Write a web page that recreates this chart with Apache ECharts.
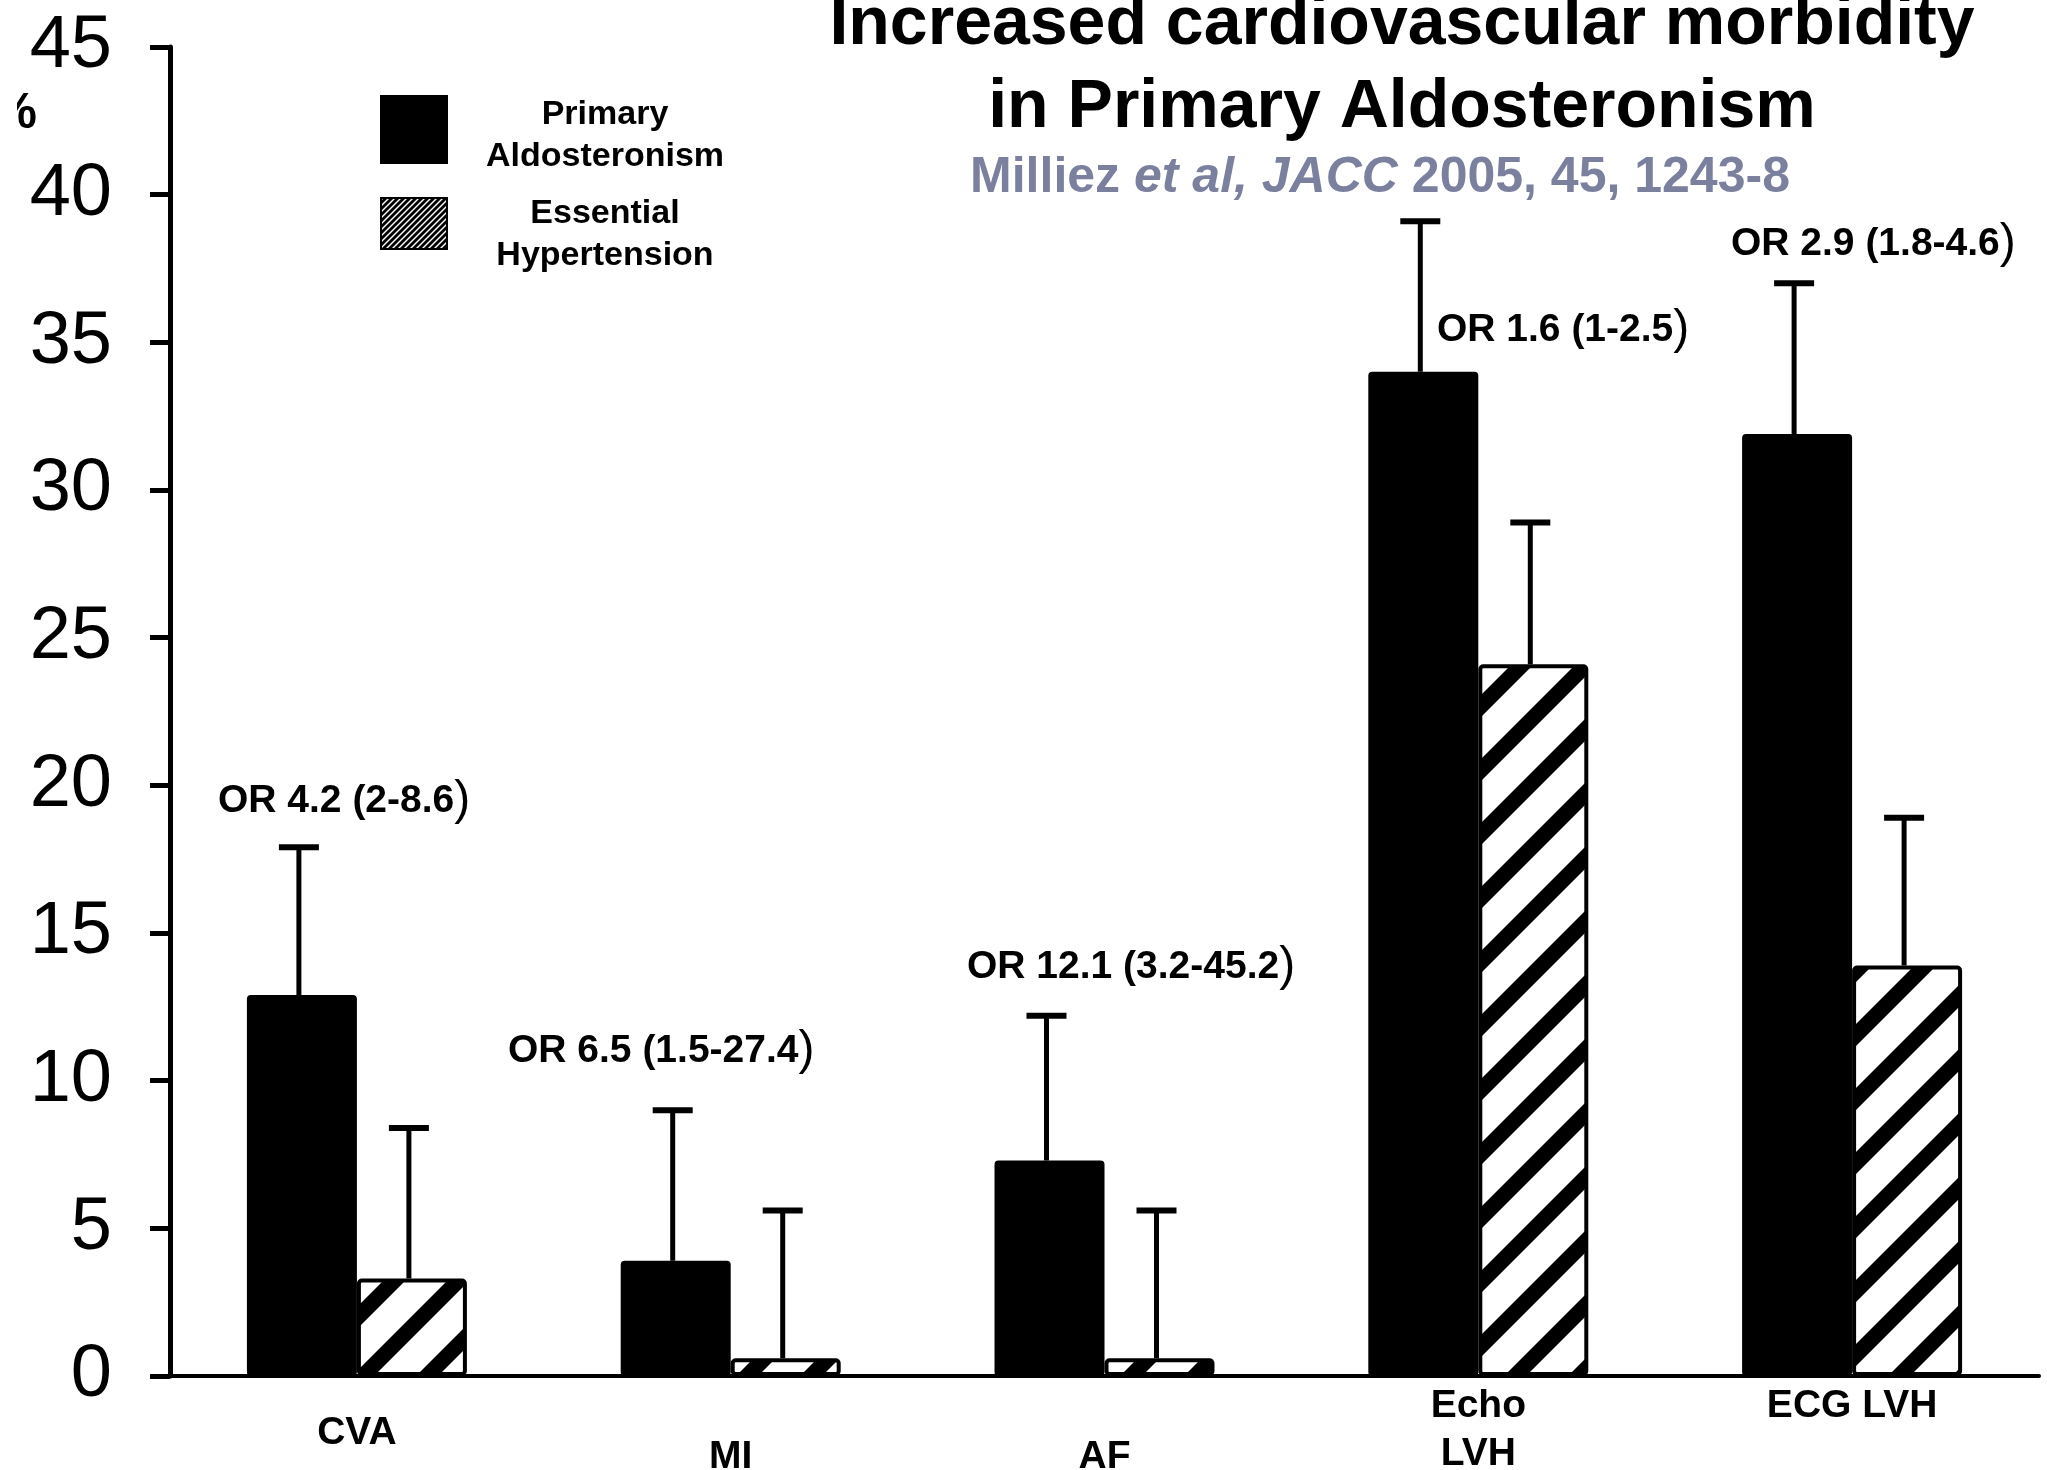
<!DOCTYPE html>
<html><head><meta charset="utf-8">
<script src="https://cdn.jsdelivr.net/npm/echarts@6/dist/echarts.min.js"></script>
<style>html,body{margin:0;padding:0;background:#fff}#c{width:2047px;height:1470px}</style>
</head><body><div id="c"></div>
<script>
// ---- data ----
const categories = ['CVA', 'MI', 'AF', 'Echo\nLVH', 'ECG LVH'];
const primaryAldo = [12.9, 3.9, 7.3, 34.0, 31.9];
const primaryAldoUpper = [17.9, 9.0, 12.2, 39.1, 37.0];
const essentialHT = [3.3, 0.6, 0.6, 24.1, 13.9];
const essentialHTUpper = [8.4, 5.6, 5.6, 28.9, 18.9];
const oddsRatioText = ['OR 4.2 (2-8.6', 'OR 6.5 (1.5-27.4', 'OR 12.1 (3.2-45.2', 'OR 1.6 (1-2.5', 'OR 2.9 (1.8-4.6'];
const yMin = 0, yMax = 45, yInterval = 5;
const seriesNames = ['Primary Aldosteronism', 'Essential Hypertension'];

// ---- styling helpers ----
const BOLD = "'Liberation Sans', Arial, Helvetica, sans-serif";
const NARROW = "'Liberation Sans Narrow', 'Arial Narrow', 'Liberation Sans', Arial, sans-serif";

function stripes(size, band, bg, fg) {
  const c = document.createElement('canvas');
  c.width = c.height = size;
  const g = c.getContext('2d');
  g.fillStyle = bg; g.fillRect(0, 0, size, size);
  g.fillStyle = fg;
  for (let k = -1; k <= 2; k++) {
    const c0 = k * size;
    g.beginPath();
    g.moveTo(c0, 0); g.lineTo(c0 + band, 0);
    g.lineTo(c0 + band - size, size); g.lineTo(c0 - size, size);
    g.closePath(); g.fill();
  }
  return c;
}
const barHatch = { image: stripes(64, 22, '#fff', '#000'), repeat: 'repeat' };
const legendHatch = { image: stripes(6, 4, '#fff', '#000'), repeat: 'repeat' };

// per-category label line heights (vertical placement of x labels)
const labelLineHeights = { 'CVA': 102, 'MI': 150, 'AF': 150, 'Echo\nLVH': 48, 'ECG LVH': 48 };

function errorSeries(name, base, upper, offset) {
  return {
    type: 'custom',
    name: name + ' error',
    z: 5,
    silent: true,
    data: base.map((v, i) => [i, v, upper[i]]),
    encode: { x: 0, y: [1, 2] },
    renderItem(params, api) {
      const i = api.value(0);
      const p0 = api.coord([i, api.value(1)]);
      const p1 = api.coord([i, api.value(2)]);
      const x = p0[0] + offset;
      return {
        type: 'group',
        children: [
          { type: 'line', shape: { x1: x, y1: p0[1], x2: x, y2: p1[1] }, style: { stroke: '#000', lineWidth: 5 } },
          { type: 'line', shape: { x1: x - 20, y1: p1[1], x2: x + 20, y2: p1[1] }, style: { stroke: '#000', lineWidth: 6 } }
        ]
      };
    }
  };
}

// annotation placement (left x, vertical centre)
const orPos = [[218, 801], [508, 1051], [967, 967], [1437, 330], [1731, 244]];

const graphics = [
  // title
  { type: 'text', x: 1402, y: 25, style: { text: 'Increased cardiovascular morbidity', font: 'bold 68px ' + BOLD, fill: '#000', align: 'center', verticalAlign: 'middle' } },
  { type: 'text', x: 1402, y: 108, style: { text: 'in Primary Aldosteronism', font: 'bold 68px ' + BOLD, fill: '#000', align: 'center', verticalAlign: 'middle' } },
  { type: 'text', x: 1380, y: 178, style: {
      text: '{n|Milliez }{i|et al, JACC}{n| 2005, 45, 1243-8}', align: 'center', verticalAlign: 'middle',
      rich: {
        n: { font: 'bold 50px ' + BOLD, fill: '#7b809e' },
        i: { font: 'italic bold 50px ' + BOLD, fill: '#7b809e' }
      } } },
  // legend
  { type: 'rect', shape: { x: 380, y: 95, width: 68, height: 69 }, style: { fill: '#000' } },
  { type: 'rect', shape: { x: 381, y: 198, width: 66, height: 51 }, style: { fill: legendHatch, stroke: '#000', lineWidth: 2 } },
  { type: 'text', x: 605, y: 136, style: { text: 'Primary\nAldosteronism', font: 'bold 34px ' + BOLD, lineHeight: 42, fill: '#000', align: 'center', verticalAlign: 'middle' } },
  { type: 'text', x: 605, y: 235, style: { text: 'Essential\nHypertension', font: 'bold 34px ' + BOLD, lineHeight: 42, fill: '#000', align: 'center', verticalAlign: 'middle' } },
  // y-axis unit (clipped at image edge)
  { type: 'text', x: 37, y: 114, z: 10, style: { text: '%', font: 'bold 50px ' + BOLD, fill: '#000', align: 'right', verticalAlign: 'middle' } },
  { type: 'rect', z: 11, shape: { x: 0, y: 80, width: 17, height: 70 }, style: { fill: '#fff' } }
];
oddsRatioText.forEach((t, i) => {
  graphics.push({
    type: 'text', x: orPos[i][0], y: orPos[i][1], z: 10,
    style: {
      text: '{b|' + t + '}{p|)}', align: 'left', verticalAlign: 'middle',
      rich: {
        b: { font: 'bold 39px ' + BOLD, fill: '#000' },
        p: { font: '48px ' + BOLD, fill: '#000' }
      }
    }
  });
});

const chart = echarts.init(document.getElementById('c'), null, { renderer: 'canvas' });
chart.setOption({
  animation: false,
  backgroundColor: '#fff',
  grid: { left: 170, right: 8, top: 47, bottom: 94, containLabel: false, outerBoundsMode: 'none' },
  xAxis: {
    type: 'category',
    data: categories.map(c => ({ value: c, textStyle: { lineHeight: labelLineHeights[c] } })),
    axisLine: { onZero: true, lineStyle: { color: '#000', width: 4 } },
    axisTick: { show: false },
    axisLabel: { margin: 6, interval: 0, color: '#000', fontFamily: BOLD, fontWeight: 'bold', fontSize: 39, lineHeight: 48, verticalAlign: 'top' },
    splitLine: { show: false }
  },
  yAxis: {
    type: 'value', min: yMin, max: yMax, interval: yInterval,
    axisLine: { show: true, lineStyle: { color: '#000', width: 5 } },
    axisTick: { show: true, inside: false, length: 20, lineStyle: { color: '#000', width: 5 } },
    axisLabel: { margin: 58, color: '#000', fontFamily: NARROW, fontSize: 74 },
    splitLine: { show: false }
  },
  series: [
    {
      type: 'bar', name: seriesNames[0], data: primaryAldo, barWidth: 110, barGap: '0%',
      itemStyle: { color: '#000', borderColor: '#000', borderWidth: 2, borderRadius: 3 }
    },
    {
      type: 'bar', name: seriesNames[1], data: essentialHT, barWidth: 110, barGap: '0%',
      itemStyle: { color: barHatch, borderColor: '#000', borderWidth: 4, borderRadius: 3 }
    },
    errorSeries(seriesNames[0], primaryAldo, primaryAldoUpper, -58),
    errorSeries(seriesNames[1], essentialHT, essentialHTUpper, 52)
  ],
  graphic: graphics
});
</script>
</body></html>
